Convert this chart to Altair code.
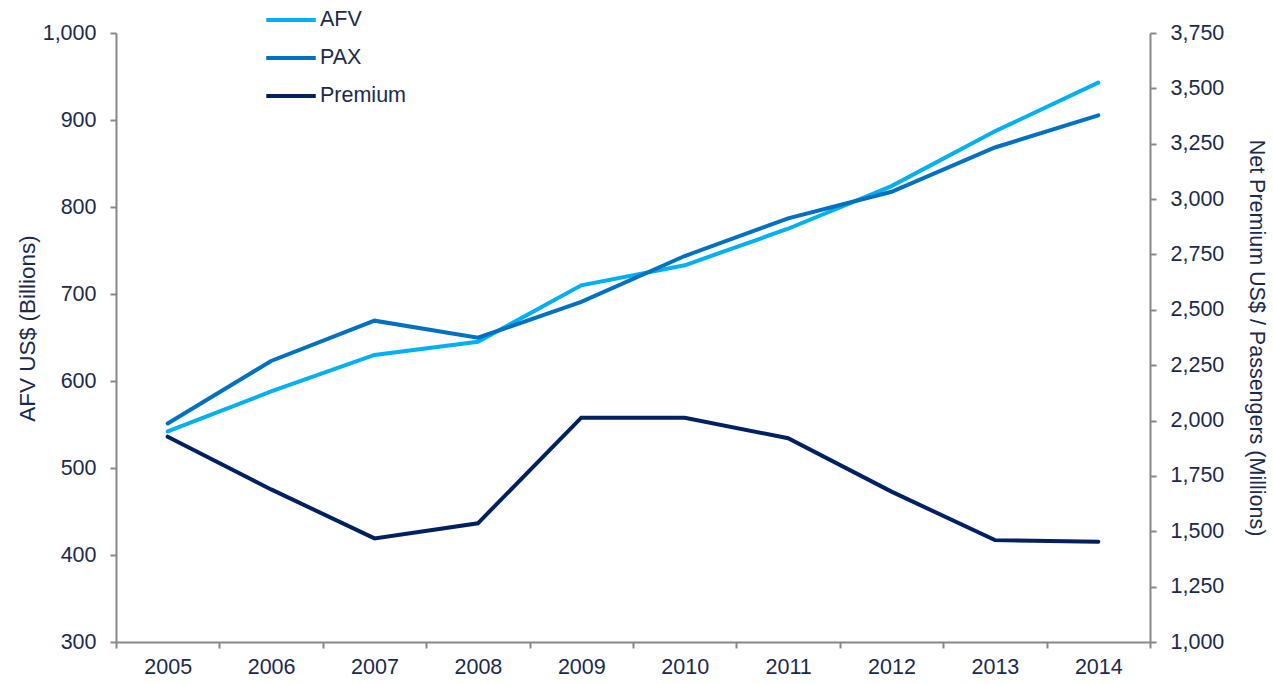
import altair as alt
import pandas as pd

years = ["2005", "2006", "2007", "2008", "2009", "2010", "2011", "2012", "2013", "2014"]
afv = [542, 588, 630, 645, 710, 733, 775, 824, 887, 943]
pax = [1987, 2269, 2451, 2374, 2536, 2743, 2913, 3033, 3233, 3378]
premium = [1927, 1689, 1468, 1536, 2013, 2013, 1920, 1679, 1460, 1453]

series_names = ["AFV", "PAX", "Premium"]
series_colors = ["#00B0F0", "#0070C0", "#002060"]

left_ticks = list(range(300, 1001, 100))
right_ticks = list(range(1000, 3751, 250))

FONT = "Liberation Sans"
TXT = "#1B2A4A"
AX = "#878787"
FS = 21.5

df_left = pd.DataFrame({"year": years, "value": afv, "series": "AFV"})
df_right = pd.concat([
    pd.DataFrame({"year": years, "value": pax, "series": "PAX"}),
    pd.DataFrame({"year": years, "value": premium, "series": "Premium"}),
])

x_enc = alt.X(
    "year:N",
    bandPosition=0.5,
    scale=alt.Scale(type="band", paddingInner=0, paddingOuter=0),
    axis=alt.Axis(title=None, tickBand="extent", labelAngle=0, labelPadding=8),
)

color_enc = alt.Color(
    "series:N",
    scale=alt.Scale(domain=series_names, range=series_colors),
    legend=alt.Legend(
        title=None, orient="none", legendX=148, legendY=-40,
        symbolType="stroke", symbolSize=2450, symbolStrokeWidth=4,
        labelFont=FONT, labelFontSize=FS, labelColor=TXT,
        rowPadding=-11, labelOffset=2,
    ),
)

left = alt.Chart(df_left).mark_line(strokeWidth=4, strokeCap="round").encode(
    x=x_enc,
    y=alt.Y(
        "value:Q",
        scale=alt.Scale(domain=[300, 1000], nice=False, zero=False),
        axis=alt.Axis(orient="left", values=left_ticks, format=",.0f",
                      title="AFV US$ (Billions)", titlePadding=3, labelPadding=14,
                      titleFontSize=22.5, titleY=295),
    ),
    color=color_enc,
)

right = alt.Chart(df_right).mark_line(strokeWidth=4, strokeCap="round").encode(
    x=x_enc,
    y=alt.Y(
        "value:Q",
        scale=alt.Scale(domain=[1000, 3750], nice=False, zero=False),
        axis=alt.Axis(orient="right", values=right_ticks, format=",.0f",
                      title="Net Premium  US$ / Passengers (Millions)",
                      titlePadding=21, labelPadding=14),
    ),
    color=color_enc,
    detail="series:N",
)

chart = alt.layer(left, right).resolve_scale(y="independent").properties(
    width=1034, height=609,
    padding={"left": 116, "top": 33, "right": 123, "bottom": 42},
    autosize="none",
).configure_view(stroke=None).configure_axis(
    grid=False,
    labelFont=FONT, labelFontSize=FS, labelColor=TXT,
    titleFont=FONT, titleFontSize=FS, titleFontWeight="normal", titleColor=TXT,
    domainColor=AX, domainWidth=2, tickColor=AX, tickWidth=2, tickSize=6,
)

chart.save("out.html", embed_options={"renderer": "svg", "actions": False})
